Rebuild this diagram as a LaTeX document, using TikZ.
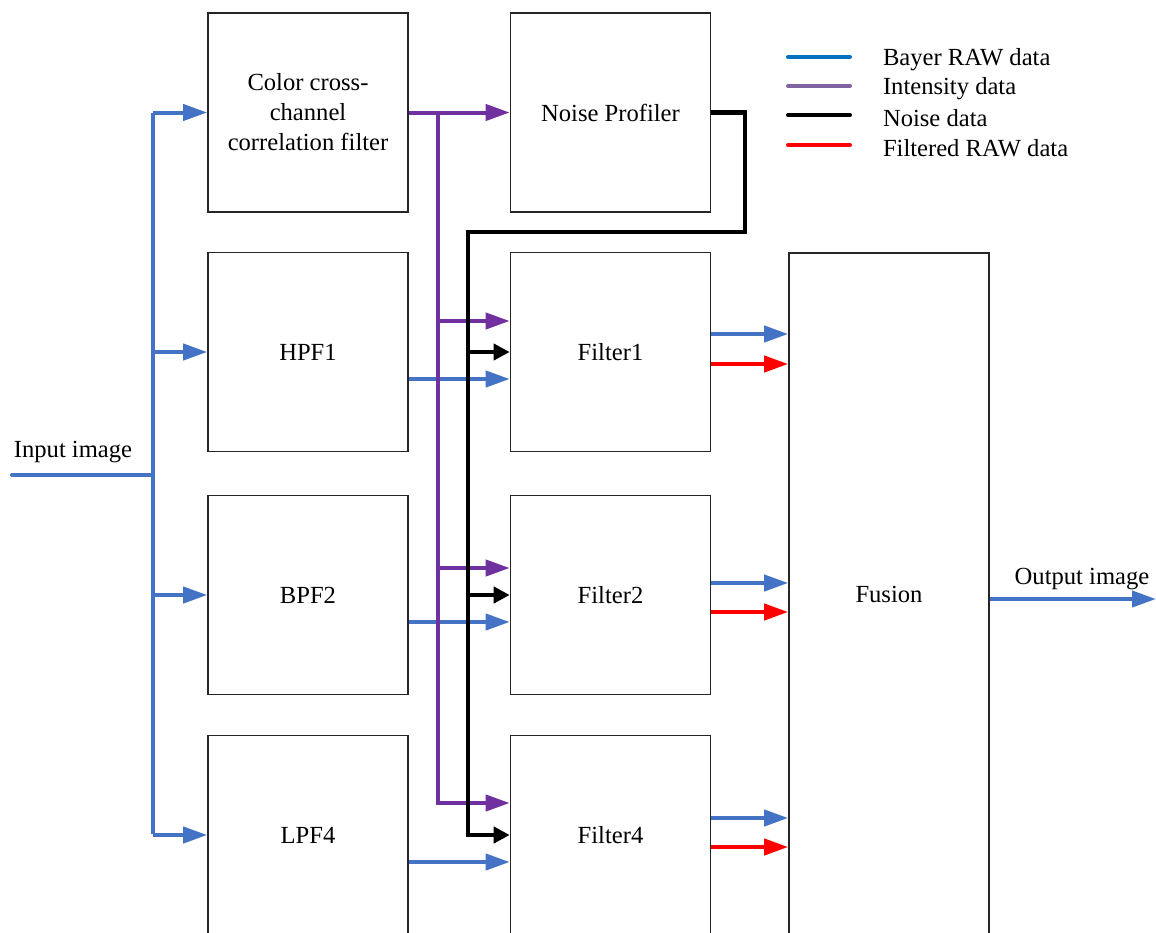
\documentclass[tikz,border=0pt]{standalone}
\usepackage{fontspec}
\setmainfont{Liberation Serif}
\usetikzlibrary{arrows.meta,positioning,calc}
\definecolor{rawblue}{RGB}{68,114,196}
\definecolor{intpurple}{RGB}{112,48,160}
\definecolor{legblue}{RGB}{0,112,192}
\definecolor{legpurple}{RGB}{128,100,162}

\begin{document}
\begin{tikzpicture}[x=0.5pt, y=-0.5pt,
    block/.style={rectangle, draw=black!85, line width=0.8pt, fill=white, minimum width=100pt, minimum height=99.5pt, inner sep=0pt, align=center, font=\fontsize{12.3}{15}\selectfont},
    lbl/.style={font=\fontsize{12.3}{15}\selectfont, inner sep=0pt},
    bline/.style={draw=rawblue, line width=2pt},
    barrow/.style={bline, -{Triangle[length=12pt, width=8pt]}},
    rarrow/.style={draw=red, line width=2pt, -{Triangle[length=12pt, width=8pt]}},
    parrow/.style={draw=intpurple, line width=2pt, -{Triangle[length=12pt, width=8pt]}},
    karrow/.style={draw=black, line width=2.2pt, -{Triangle[length=8pt, width=8pt]}}
]
\useasboundingbox (0,0) rectangle (1156,932);
\clip (0,0) rectangle (1156,932);

\node[block] (ccf) at (308,112.5) {Color cross-\\channel\\correlation filter};
\node[block] (np) at (610.5,112.5) {Noise Profiler};
\node[block] (hpf) at (308,352) {HPF1};
\node[block] (f1) at (610.5,352) {Filter1};
\node[block] (bpf) at (308,595) {BPF2};
\node[block] (f2) at (610.5,595) {Filter2};
\node[block] (lpf) at (308,835) {LPF4};
\node[block] (f4) at (610.5,835) {Filter4};
\node[block, minimum height=341pt] (fus) at (889,594) {Fusion};

\node[lbl] (inlbl) at (73,452) {Input image};
\node[lbl] (outlbl) at (1082,579) {Output image};

\foreach \y/\c/\t in {57/legblue/Bayer RAW data, 86/legpurple/Intensity data, 115/black/Noise data, 145/red/Filtered RAW data}
  \draw[draw=\c, line width=2pt, line cap=round] (788,\y) -- (850,\y) node[lbl, anchor=west, black] at (881,\y+3) {\t};

\coordinate (in) at (12,475);
\coordinate (tj) at (153,475);
\coordinate (ttop) at (153,112.5);
\coordinate (tbot) at (153,834);
\draw[bline, line cap=round] (in) -- (tj);
\draw[bline] (ttop) -- (tbot);
\foreach \b in {ccf,hpf,bpf,lpf}
  \draw[barrow] (ttop |- \b.west) -- (\b.west);

\foreach \s/\f in {hpf/f1,bpf/f2,lpf/f4}
  \draw[barrow] ($(\s.east)+(0,27)$) -- ($(\f.west)+(0,27)$);

\coordinate (ptop) at (438,112.5);
\path ($(f1.west)+(0,-31)$) coordinate (p1) ($(f2.west)+(0,-27)$) coordinate (p2) ($(f4.west)+(0,-32)$) coordinate (p4);
\draw[parrow] (ccf.east) -- (np.west);
\draw[parrow] (ptop) |- (p4);
\draw[parrow] (ptop |- p1) -- (p1);
\draw[parrow] (ptop |- p2) -- (p2);

\coordinate (kbend) at (745,232);
\coordinate (kx) at (468,232);
\draw[karrow] (np.east) -| (kbend) -- (kx) |- (f4.west);
\draw[karrow] (kx |- f1.west) -- (f1.west);
\draw[karrow] (kx |- f2.west) -- (f2.west);

\foreach \f/\a/\r in {f1/-18/12,f2/-12/17,f4/-17/12} {
  \draw[barrow] ($(\f.east)+(0,\a)$) -- ($(\f.east -| fus.west)+(0,\a)$);
  \draw[rarrow] ($(\f.east)+(0,\r)$) -- ($(\f.east -| fus.west)+(0,\r)$);
}

\coordinate (out) at (1156,599);
\draw[barrow] (out -| fus.east) -- (out);
\end{tikzpicture}
\end{document}
